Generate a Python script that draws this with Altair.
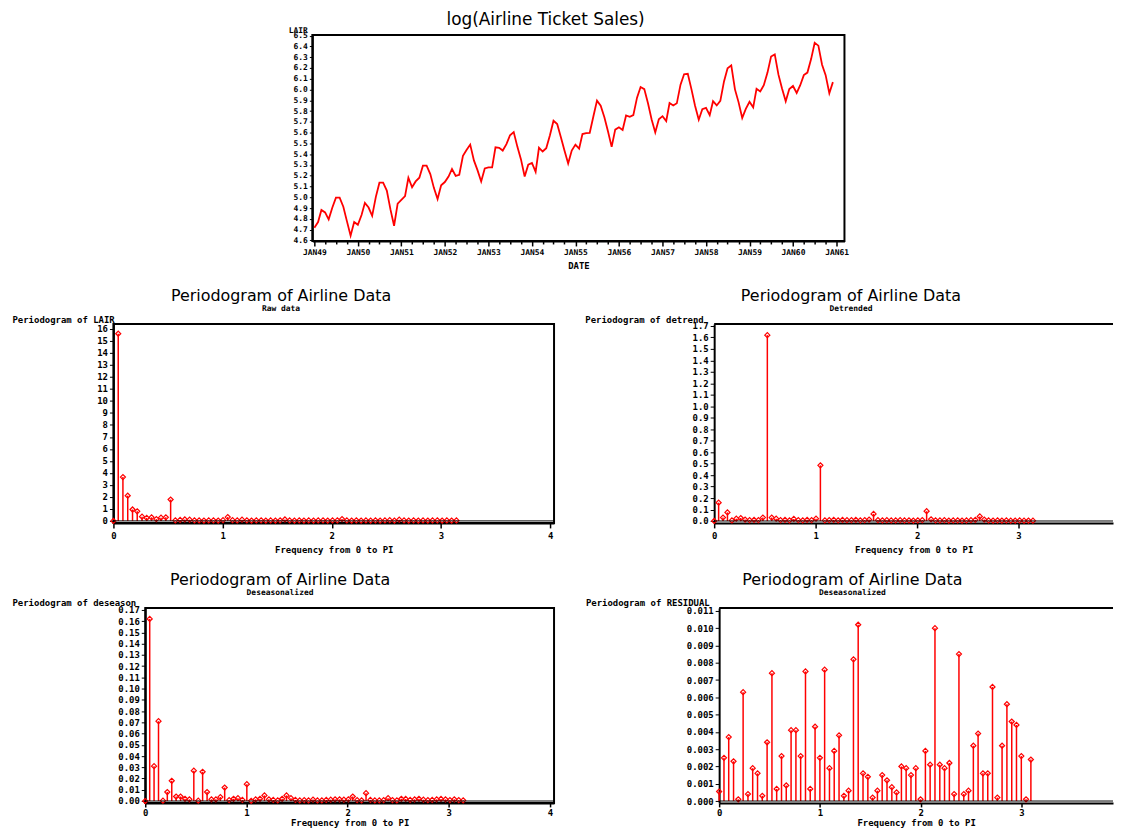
import altair as alt
import pandas as pd

# ---------------- data ----------------
# Monthly airline ticket sales (thousands), Jan 1949 - Dec 1960
y1949 = [112, 118, 132, 129, 121, 135, 148, 148, 136, 119, 104, 118]
y1950 = [115, 126, 141, 135, 125, 149, 170, 170, 158, 133, 114, 140]
y1951 = [145, 150, 178, 163, 172, 178, 199, 199, 184, 162, 146, 166]
y1952 = [171, 180, 193, 181, 183, 218, 230, 242, 209, 191, 172, 194]
y1953 = [196, 196, 236, 235, 229, 243, 264, 272, 237, 211, 180, 201]
y1954 = [204, 188, 235, 227, 234, 264, 302, 293, 259, 229, 203, 229]
y1955 = [242, 233, 267, 269, 270, 315, 364, 347, 312, 274, 237, 278]
y1956 = [284, 277, 317, 313, 318, 374, 413, 405, 355, 306, 271, 306]
y1957 = [315, 301, 356, 348, 355, 422, 465, 467, 404, 347, 305, 336]
y1958 = [340, 318, 362, 348, 363, 435, 491, 505, 404, 359, 310, 337]
y1959 = [360, 342, 406, 396, 420, 472, 548, 559, 463, 407, 362, 405]
y1960 = [417, 391, 419, 461, 472, 535, 622, 606, 508, 461, 390, 432]
sales = (y1949 + y1950 + y1951 + y1952 + y1953 + y1954 +
         y1955 + y1956 + y1957 + y1958 + y1959 + y1960)
months = pd.date_range("1949-01-01", periods=len(sales), freq="MS")

# Fourier frequencies (0..pi) for the 144-point series
freq_144 = [0.000, 0.044, 0.087, 0.131, 0.175, 0.218, 0.262, 0.305, 0.349, 0.393,
            0.436, 0.480, 0.524, 0.567, 0.611, 0.654, 0.698, 0.742, 0.785, 0.829,
            0.873, 0.916, 0.960, 1.004, 1.047, 1.091, 1.134, 1.178, 1.222, 1.265,
            1.309, 1.353, 1.396, 1.440, 1.484, 1.527, 1.571, 1.614, 1.658, 1.702,
            1.745, 1.789, 1.833, 1.876, 1.920, 1.963, 2.007, 2.051, 2.094, 2.138,
            2.182, 2.225, 2.269, 2.313, 2.356, 2.400, 2.443, 2.487, 2.531, 2.574,
            2.618, 2.662, 2.705, 2.749, 2.793, 2.836, 2.880, 2.923, 2.967, 3.011,
            3.054, 3.098, 3.142]
# Fourier frequencies for the residual series
freq_res = [0.000, 0.048, 0.095, 0.143, 0.190, 0.238, 0.286, 0.333, 0.381, 0.428,
            0.476, 0.524, 0.571, 0.619, 0.666, 0.714, 0.762, 0.809, 0.857, 0.904,
            0.952, 1.000, 1.047, 1.095, 1.142, 1.190, 1.238, 1.285, 1.333, 1.380,
            1.428, 1.476, 1.523, 1.571, 1.618, 1.666, 1.714, 1.761, 1.809, 1.856,
            1.904, 1.952, 1.999, 2.047, 2.094, 2.142, 2.190, 2.237, 2.285, 2.332,
            2.380, 2.428, 2.475, 2.523, 2.570, 2.618, 2.666, 2.713, 2.761, 2.808,
            2.856, 2.904, 2.951, 2.999, 3.046, 3.094]

p_raw = [0.0, 15.6, 3.65, 2.1, 0.95, 0.8, 0.35, 0.25, 0.3, 0.15,
         0.27, 0.3, 1.78, 0.05, 0.08, 0.12, 0.1, 0.05, 0.04, 0.03,
         0.04, 0.05, 0.03, 0.06, 0.32, 0.06, 0.04, 0.1, 0.05, 0.03,
         0.04, 0.05, 0.03, 0.04, 0.03, 0.05, 0.12, 0.04, 0.03, 0.05,
         0.03, 0.04, 0.03, 0.04, 0.05, 0.03, 0.04, 0.05, 0.15, 0.04,
         0.03, 0.05, 0.03, 0.04, 0.03, 0.05, 0.03, 0.04, 0.06, 0.03,
         0.1, 0.04, 0.03, 0.05, 0.03, 0.04, 0.03, 0.04, 0.05, 0.03,
         0.04, 0.03, 0.04]
p_detrend = [0.0, 0.16, 0.03, 0.075, 0.005, 0.02, 0.025, 0.012, 0.008, 0.01,
             0.008, 0.03, 1.62, 0.03, 0.02, 0.008, 0.01, 0.006, 0.018, 0.008,
             0.006, 0.01, 0.008, 0.02, 0.485, 0.006, 0.008, 0.01, 0.006, 0.009,
             0.007, 0.008, 0.01, 0.006, 0.008, 0.012, 0.062, 0.008, 0.006, 0.007,
             0.005, 0.006, 0.007, 0.005, 0.006, 0.004, 0.006, 0.008, 0.085, 0.015,
             0.006, 0.005, 0.007, 0.004, 0.005, 0.006, 0.004, 0.005, 0.007, 0.01,
             0.04, 0.012, 0.005, 0.004, 0.006, 0.004, 0.005, 0.003, 0.004, 0.005,
             0.003, 0.004, 0.003]
p_deseason = [0.0, 0.162, 0.031, 0.071, 0.0003, 0.008, 0.018, 0.004, 0.004, 0.002,
              0.0015, 0.027, 0.0003, 0.026, 0.008, 0.0015, 0.0015, 0.0035, 0.012, 0.0008,
              0.002, 0.0025, 0.001, 0.015, 0.0002, 0.0015, 0.002, 0.005, 0.0015, 0.001,
              0.0006, 0.002, 0.005, 0.0025, 0.001, 0.0005, 0.0008, 0.0005, 0.0013, 0.0005,
              0.0006, 0.001, 0.0012, 0.0015, 0.0015, 0.0012, 0.0015, 0.004, 0.0008, 0.0006,
              0.007, 0.001, 0.0005, 0.0006, 0.0008, 0.0025, 0.0008, 0.0005, 0.002, 0.0018,
              0.001, 0.0015, 0.002, 0.0012, 0.0008, 0.001, 0.0015, 0.0018, 0.0015, 0.0008,
              0.0015, 0.0008, 0.0006]
p_resid = [0.00055, 0.0025, 0.0037, 0.0023, 0.0001, 0.0063, 0.0004, 0.0019, 0.0016, 0.0003,
           0.0034, 0.0074, 0.0007, 0.0026, 0.0009, 0.0041, 0.0041, 0.0026, 0.0075, 0.0007,
           0.0043, 0.0025, 0.0076, 0.0019, 0.0029, 0.0038, 0.0003, 0.0006, 0.0082, 0.0102,
           0.0016, 0.0014, 0.0002, 0.0006, 0.0015, 0.0012, 0.0008, 0.0005, 0.0020, 0.0019,
           0.0015, 0.0019, 0.0001, 0.0029, 0.0021, 0.0100, 0.0021, 0.0019, 0.0022, 0.0004,
           0.0085, 0.0004, 0.0006, 0.0032, 0.0039, 0.0016, 0.0016, 0.0066, 0.0002, 0.0032,
           0.0056, 0.0046, 0.0044, 0.0026, 0.0001, 0.0024]

ticks_top_y = [4.6, 4.7, 4.8, 4.9, 5.0, 5.1, 5.2, 5.3, 5.4, 5.5,
               5.6, 5.7, 5.8, 5.9, 6.0, 6.1, 6.2, 6.3, 6.4, 6.5]
ticks_raw_y = [0, 1, 2, 3, 4, 5, 6, 7, 8, 9, 10, 11, 12, 13, 14, 15, 16]
ticks_det_y = [0.0, 0.1, 0.2, 0.3, 0.4, 0.5, 0.6, 0.7, 0.8, 0.9,
               1.0, 1.1, 1.2, 1.3, 1.4, 1.5, 1.6, 1.7]
ticks_des_y = [0.00, 0.01, 0.02, 0.03, 0.04, 0.05, 0.06, 0.07, 0.08, 0.09,
               0.10, 0.11, 0.12, 0.13, 0.14, 0.15, 0.16, 0.17]
ticks_res_y = [0.000, 0.001, 0.002, 0.003, 0.004, 0.005, 0.006,
               0.007, 0.008, 0.009, 0.010, 0.011]

# ---------------- styling ----------------
MONO = "DejaVu Sans Mono"
SANS = "DejaVu Sans"
RED = "#ff0000"
BOX = alt.ViewBackground(stroke="black", strokeWidth=2)


def y_axis(values, fmt, title, tx, align):
    return alt.Axis(values=values, format=fmt, title=title, titleAngle=0,
                    titleAlign=align, titleX=tx, titleY=-5, titleBaseline="middle",
                    titleFont=MONO, titleFontSize=9, titleFontWeight="bold",
                    titleColor="black", labelFont=MONO, labelFontSize=9,
                    labelFontWeight="bold", labelColor="black", labelOverlap=False,
                    labelPadding=2, domainColor="black", domainWidth=2,
                    tickColor="black", tickSize=4, grid=False)


def x_axis(values, tick, lpad, tpad):
    return alt.Axis(values=values, format="d", title="Frequency from 0 to PI",
                    titleFont=MONO, titleFontSize=9, titleFontWeight="bold",
                    titleColor="black", titlePadding=tpad, labelFont=MONO,
                    labelFontSize=9, labelFontWeight="bold", labelColor="black",
                    labelFlush=False, labelOverlap=False, labelPadding=lpad,
                    domainColor="black", domainWidth=2, tickColor="black",
                    tickSize=tick, tickWidth=1.5, grid=False)


def panel(freq, pgram, W, H, xdom, ydom, xax, yax, subtitle, dx, boxed):
    df = pd.DataFrame({"f": freq, "p": pgram})
    base = alt.Chart(df)
    xsc = alt.Scale(domain=xdom, nice=False, zero=False)
    ysc = alt.Scale(domain=ydom, nice=False, zero=False)
    xs = alt.X("f:Q", scale=xsc, axis=xax)
    ys = alt.Y("p:Q", scale=ysc, axis=yax)
    zero_df = pd.DataFrame({"z": [0.0]})
    stems = base.mark_rule(color=RED, strokeWidth=1.5).encode(x=xs, y=ys, y2=alt.datum(0))
    pts = base.mark_point(shape="diamond", filled=False, color=RED, size=26,
                          strokeWidth=1.2, opacity=1).encode(x=xs, y=ys)
    zero = alt.Chart(zero_df).mark_rule(color="black", strokeWidth=1).encode(
        y=alt.Y("z:Q", scale=ysc, axis=yax), x=alt.value(0), x2=alt.value(W))
    layers = [stems, pts, zero]
    if not boxed:
        top_edge = alt.Chart(zero_df).mark_rule(color="black", strokeWidth=2).encode(
            y=alt.value(0), x=alt.value(0), x2=alt.value(W))
        layers.append(top_edge)
    props = dict(width=W, height=H,
                 title=alt.TitleParams(text="Periodogram of Airline Data", subtitle=subtitle,
                                       font=SANS, fontSize=16, fontWeight="normal",
                                       color="black", subtitleFont=MONO, subtitleFontSize=8,
                                       subtitleFontWeight="bold", subtitleColor="black",
                                       subtitlePadding=1, anchor="middle", frame="group",
                                       offset=2, dx=dx))
    if boxed:
        props["view"] = BOX
    return alt.layer(*layers).properties(**props)


def spacer(w):
    return alt.Chart(pd.DataFrame({"a": [0]})).mark_point(opacity=0).encode(
        x=alt.value(0), y=alt.value(0)).properties(width=w, height=1)


# ---------------- top chart ----------------
H1, H2, H3 = 207, 200, 196
df_top = pd.DataFrame({"date": months, "sales": sales})
top = alt.Chart(df_top).transform_calculate(lair="log(datum.sales)").mark_line(
    color=RED, strokeWidth=1.8).encode(
    x=alt.X("date:T",
            scale=alt.Scale(domain=[alt.DateTime(year=1948, month=12, date=15),
                                    alt.DateTime(year=1961, month=3, date=8)], nice=False),
            axis=alt.Axis(tickCount={"interval": "month", "step": 3},
                          labelExpr="month(datum.value) == 0 ? 'JAN' + timeFormat(datum.value, '%y') : ''",
                          title="DATE", titleFont=MONO, titleFontSize=9, titleFontWeight="bold",
                          titleColor="black", titlePadding=5, labelFont=MONO, labelFontSize=8,
                          labelFontWeight="bold", labelColor="black", labelFlush=False,
                          labelOverlap=False, labelPadding=3, domainColor="black",
                          domainWidth=2, tickColor="black", tickWidth=1.5,
                          tickSize={"condition": {"test": "month(datum.value) == 0", "value": 5},
                                    "value": 3},
                          grid=False)),
    y=alt.Y("lair:Q", scale=alt.Scale(domain=[4.595, 6.505], nice=False, zero=False),
            axis=alt.Axis(values=ticks_top_y, format=".1f", title="LAIR", titleAngle=0,
                          titleAlign="right", titleX=-5, titleY=-1, titleBaseline="bottom",
                          titleFont=MONO, titleFontSize=8, titleFontWeight="bold",
                          titleColor="black", labelFont=MONO, labelFontSize=8,
                          labelFontWeight="bold", labelColor="black", labelOverlap=False,
                          labelPadding=2, domainColor="black", domainWidth=2,
                          tickColor="black", tickSize=3, grid=False)),
).properties(width=535, height=H1, view=BOX,
             title=alt.TitleParams(text="log(Airline Ticket Sales)", font=SANS, fontSize=17,
                                   fontWeight="normal", color="black", anchor="middle",
                                   frame="group", offset=-3, dx=-33))

# ---------------- periodograms ----------------
p1 = panel(freq_144, p_raw, 443, H2, [0, 4.036], [-0.17, 16.41],
           x_axis([0, 1, 2, 3, 4], 5, 4, 5),
           y_axis(ticks_raw_y, "d", "Periodogram of LAIR", -102, "left"),
           "Raw data", -53, True)
p2 = panel(freq_144, p_detrend, 401, H2, [0, 3.931], [-0.017, 1.717],
           x_axis([0, 1, 2, 3], 5, 4, 5),
           y_axis(ticks_det_y, ".1f", "Periodogram of detrend", -11, "right"),
           "Detrended", -63, False)
p3 = panel(freq_144, p_deseason, 411, H3, [0, 4.04], [-0.0017, 0.1717],
           x_axis([0, 1, 2, 3, 4], 4, 2, 1),
           y_axis(ticks_des_y, ".2f", "Periodogram of deseason", -134, "left"),
           "Deseasonalized", -70, True)
p4 = panel(freq_res, p_resid, 396, H3, [0, 3.909], [-0.00011, 0.01117],
           x_axis([0, 1, 2, 3], 4, 2, 1),
           y_axis(ticks_res_y, ".3f", "Periodogram of RESIDUAL", -10, "right"),
           "Deseasonalized", -64, False)

row1 = alt.hconcat(spacer(303), top, spacing=0, bounds="flush")
row2 = alt.hconcat(spacer(103), p1, spacer(161), p2, spacing=0, bounds="flush")
row3 = alt.hconcat(spacer(135), p3, spacer(166), p4, spacing=0, bounds="flush")

chart = alt.vconcat(row1, row2, row3, spacing=15.5).properties(
    padding=0, background="white").configure_view(stroke=None)

chart.save("out.html", embed_options={"renderer": "svg", "actions": False})
